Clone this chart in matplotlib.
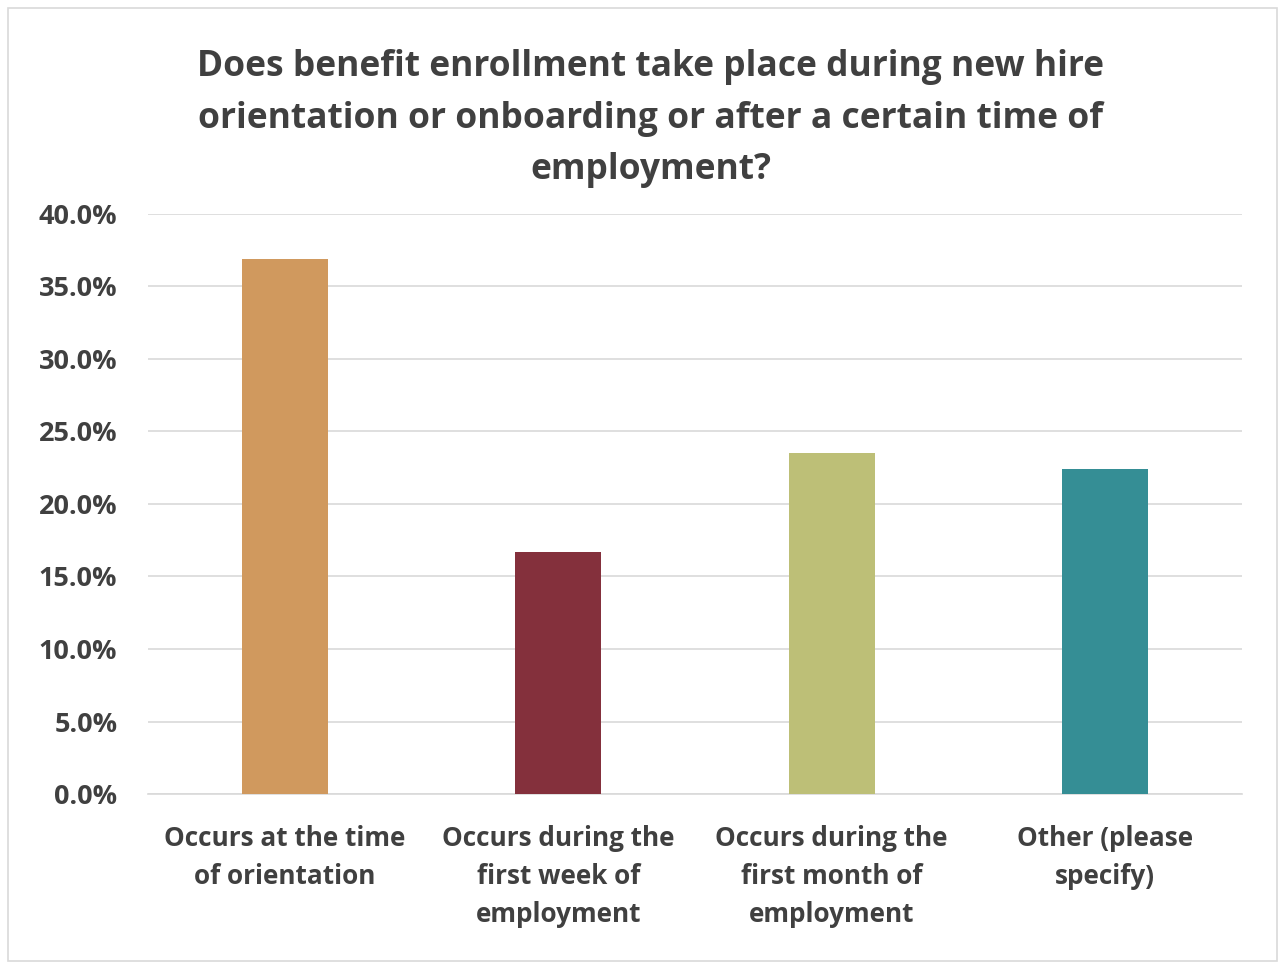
import matplotlib.pyplot as plt
import numpy as np

categories = ['Occurs at the time\nof orientation',
              'Occurs during the\nfirst week of\nemployment',
              'Occurs during the\nfirst month of\nemployment',
              'Other (please\nspecify)']
shares = [36.9, 16.7, 23.5, 22.4]
colors = ['#D0995E', '#84303C', '#BDBF77', '#358E95']
ytick_vals = [0, 5, 10, 15, 20, 25, 30, 35, 40]

plt.rcParams['font.family'] = ['Open Sans', 'DejaVu Sans']
text_color = '#404040'

fig = plt.figure(figsize=(12.81, 9.64), dpi=100)
ax = fig.add_axes([0.1155, 0.1763, 0.854, 0.602])

x = np.arange(len(categories))
ax.bar(x, shares, width=0.315, color=colors, zorder=3)

ax.set_xlim(-0.5, len(categories) - 0.5)
ax.set_ylim(0, 40)
ax.set_yticks(ytick_vals)
ax.set_yticklabels(['%.1f%%' % v for v in ytick_vals], fontsize=19.5,
                   fontweight='bold', color=text_color)
ax.set_xticks(x)
ax.set_xticklabels(categories, fontsize=18.8, fontweight='bold', color=text_color,
                   linespacing=1.54)
ax.tick_params(axis='x', length=0, pad=22)
ax.tick_params(axis='y', length=0, pad=22)
ax.grid(axis='y', color='#D9D9D9', linewidth=1.2, zorder=0)
for side in ['top', 'right', 'left']:
    ax.spines[side].set_visible(False)
ax.spines['bottom'].set_color('#D9D9D9')
ax.spines['bottom'].set_linewidth(1.2)

fig.text(0.508, 0.877, 'Does benefit enrollment take place during new hire\n'
         'orientation or onboarding or after a certain time of\nemployment?',
         ha='center', va='center', fontsize=25.5, fontweight='bold',
         color=text_color, linespacing=1.58)

# outer chart border
fig.patches.append(plt.Rectangle((0.006, 0.003), 0.991, 0.989, transform=fig.transFigure,
                                 fill=False, edgecolor='#D9D9D9', linewidth=1.2))

fig.savefig('out.png', dpi=100)
